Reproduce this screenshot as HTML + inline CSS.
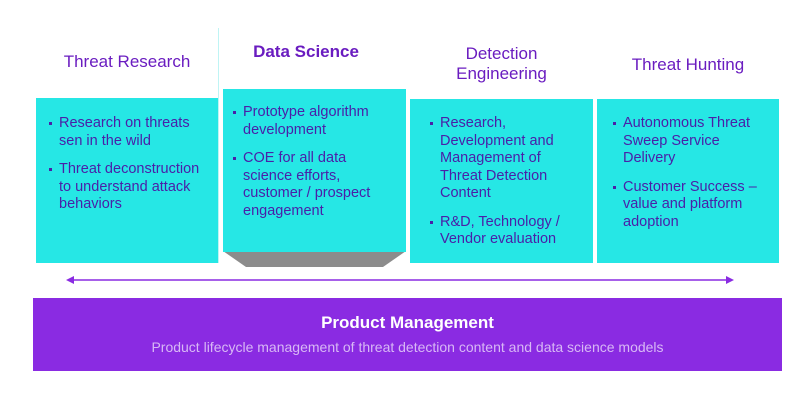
<!DOCTYPE html>
<html><head><meta charset="utf-8"><style>
*{margin:0;padding:0;box-sizing:border-box}
body{width:800px;height:400px;background:#fff;position:relative;overflow:hidden;font-family:"Liberation Sans",sans-serif}
.t{position:absolute;color:#6a1cc0;font-size:17px;text-align:center;line-height:20px}
.b{position:absolute;background:#26e7e5}
ul{list-style:none;position:absolute;color:#4a20a8;font-size:14.5px;line-height:17.5px;white-space:nowrap}
li{position:relative;margin-bottom:11px}
li:before{content:"";position:absolute;left:-10px;top:7px;width:3px;height:3px;background:#4a20a8}
</style></head><body>
<div style="position:absolute;left:218px;top:28px;width:1px;height:235px;background:#bff4f4"></div>
<div class="t" style="left:36px;top:52px;width:182px">Threat Research</div>
<div class="t" style="left:236px;top:42px;width:140px;font-weight:bold;">Data Science</div>
<div class="t" style="left:410px;top:44px;width:183px">Detection<br>Engineering</div>
<div class="t" style="left:597px;top:55px;width:182px">Threat Hunting</div>
<div class="b" style="left:36px;top:98px;width:182px;height:165px"></div>
<svg style="position:absolute;left:223px;top:251px" width="183" height="17"><polygon points="0,0 183,0 160,16 23,16" fill="#8c8c8c"/></svg>
<div class="b" style="left:223px;top:89px;width:183px;height:163px"></div>
<div class="b" style="left:410px;top:99px;width:183px;height:164px"></div>
<div class="b" style="left:597px;top:99px;width:182px;height:164px"></div>
<ul style="left:59px;top:115px"><li>Research on threats<br>sen in the wild</li><li>Threat deconstruction<br>to understand attack<br>behaviors</li></ul>
<ul style="left:243px;top:104px"><li>Prototype algorithm<br>development</li><li>COE for all data<br>science efforts,<br>customer / prospect<br>engagement</li></ul>
<ul style="left:440px;top:115px"><li>Research,<br>Development and<br>Management of<br>Threat Detection<br>Content</li><li>R&amp;D, Technology /<br>Vendor evaluation</li></ul>
<ul style="left:623px;top:115px"><li>Autonomous Threat<br>Sweep Service<br>Delivery</li><li>Customer Success –<br>value and platform<br>adoption</li></ul>
<svg style="position:absolute;left:66px;top:274px" width="670" height="12"><line x1="6" y1="6" x2="662" y2="6" stroke="#8a2be2" stroke-width="1.5"/><polygon points="0,6 8,2 8,10" fill="#8a2be2"/><polygon points="668,6 660,2 660,10" fill="#8a2be2"/></svg>
<div style="position:absolute;left:33px;top:298px;width:749px;height:73px;background:#8a2be2;text-align:center;color:#fff">
<div style="font-weight:bold;font-size:17px;margin-top:15px">Product Management</div>
<div style="font-size:14px;color:#d8b8f5;margin-top:6px">Product lifecycle management of threat detection content and data science models</div>
</div>
</body></html>
